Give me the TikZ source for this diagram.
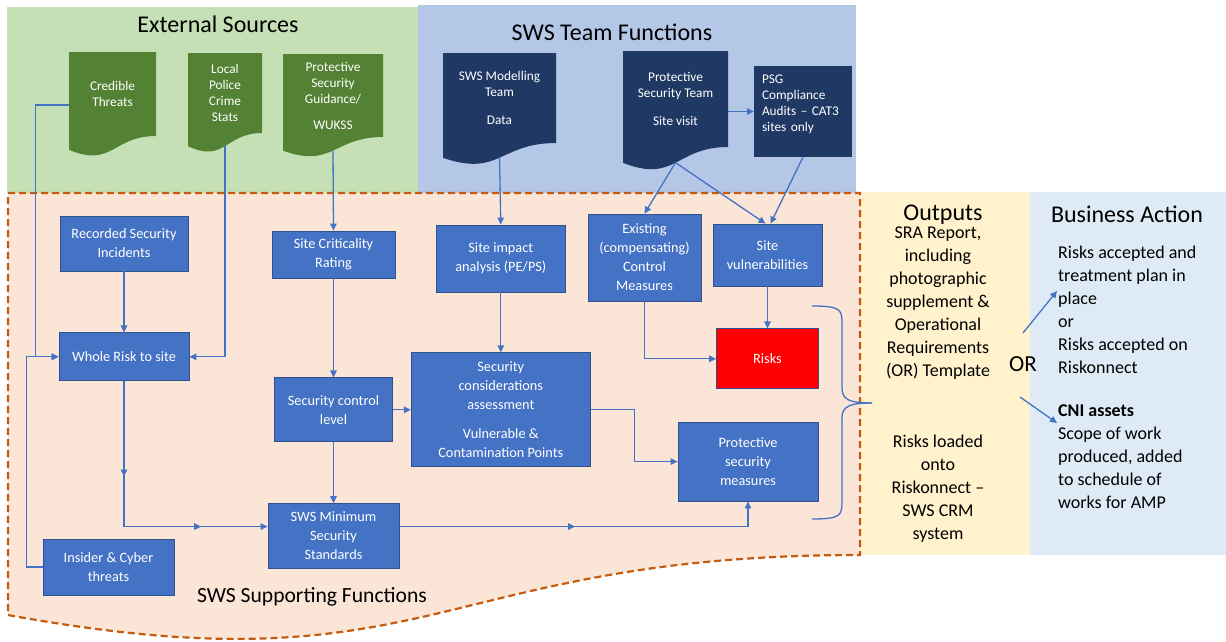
\documentclass[tikz,border=0pt]{standalone}
\usepackage{fontspec}
\setmainfont{Carlito}
\usetikzlibrary{positioning, calc, arrows.meta, decorations.markings}

\definecolor{srcgreen}{HTML}{C5E0B4}
\definecolor{teamblue}{HTML}{B4C7E7}
\definecolor{suppfill}{HTML}{FBE5D6}
\definecolor{suppline}{HTML}{C55A11}
\definecolor{outyellow}{HTML}{FFF2CC}
\definecolor{actblue}{HTML}{DEEBF7}
\definecolor{boxblue}{HTML}{4472C4}
\definecolor{boxline}{HTML}{2F528F}
\definecolor{docgreen}{HTML}{548235}
\definecolor{docnavy}{HTML}{203864}

\pgfdeclarelayer{panel}
\pgfdeclarelayer{paper}
\pgfsetlayers{panel,paper,main}

\tikzset{
    fn/.style={draw=boxline, fill=boxblue, text=white, align=center, inner sep=2pt,
        line width=0.8pt, font=\fontsize{14.3}{19}\selectfont},
    doc/.style={text=white, align=center, inner sep=1pt, outer sep=0pt,
        font=\fontsize{13.3}{16}\selectfont},
    flow/.style={boxblue, line width=1.3pt, -{Triangle[length=7pt,width=6.5pt]}},
    link/.style={boxblue, line width=1.3pt},
    midarrow/.style={postaction={decorate, decoration={markings,
        mark=at position #1 with {\arrow{Triangle[length=7pt,width=6.5pt]}}}}},
    heading/.style={font=\fontsize{24}{28}\selectfont, inner sep=0pt},
    note/.style={font=\fontsize{18}{23}\selectfont, inner sep=0pt},
}

% wavy bottom of a document shape under node #1
\newcommand{\docwave}[2]{%
    \fill[#2] (#1.north west) -- (#1.north east) -- (#1.south east)
        .. controls (#1.south) and ($(#1.north)!1.3815!(#1.south)$)
        .. ($(#1.north west)!1.1646!(#1.south west)$) -- cycle;
    \coordinate (#1-b) at ($(#1.north)!1.163!(#1.south)$);}

\begin{document}
\begin{tikzpicture}[x=1pt, y=-1pt]
    \useasboundingbox (0,0) rectangle (1226,641);

    % panels
    \begin{pgfonlayer}{panel}
        \fill[srcgreen] (7,7) rectangle (418,193);
        \fill[teamblue] (418,5) rectangle (856,193);
        \fill[outyellow] (860,192) rectangle (1030,555);
        \fill[actblue] (1030,192) rectangle (1226,555);
        \draw[suppline, fill=suppfill, line width=2.2pt, dash pattern=on 7pt off 4pt]
            (8,193) -- (860,193) -- (860,555)
            .. controls (434,555) and (434,693) .. (8,615) -- cycle;
    \end{pgfonlayer}

    \node[heading] (srctitle) at (218,24) {External Sources};
    \node[heading] (teamtitle) at (612,32) {SWS Team Functions};
    \node[heading, font=\fontsize{21.6}{26}\selectfont] (supptitle) at (312,597) {SWS Supporting Functions};
    \node[heading] (outtitle) at (943,215) {Outputs};
    \node[heading] (acttitle) at (1127,214) {Business Action};

    % external sources
    \node[doc, minimum width=87pt, minimum height=84pt] (cred) at (112.5,94) {Credible\\Threats};
    \node[doc, minimum width=74pt, minimum height=80pt] (police) at (225,93) {Local\\Police\\Crime\\Stats};
    \node[doc, minimum width=100pt, minimum height=83pt] (guide) at (333,95.5) {Protective\\Security\\Guidance/\\[10pt]WUKSS};

    % team functions
    \node[doc, minimum width=113pt, minimum height=90pt] (model) at (499.5,98) {SWS Modelling\\Team\\[12pt]Data};
    \node[doc, minimum width=105pt, minimum height=96pt] (pst) at (675.5,99) {Protective\\Security Team\\[12pt]Site visit};
    \node[doc, fill=docnavy, minimum width=98pt, minimum height=91pt, align=left, text width=82pt] (psg) at (803,111.5)
        {PSG\\Compliance\\Audits – CAT3\\sites only\\ \mbox{}};

    \begin{pgfonlayer}{paper}
        \docwave{cred}{docgreen}
        \docwave{police}{docgreen}
        \docwave{guide}{docgreen}
        \docwave{model}{docnavy}
        \docwave{pst}{docnavy}
    \end{pgfonlayer}

    % supporting functions
    \node[fn, minimum width=128pt, minimum height=55pt] (rec) at (124,243.5) {Recorded Security\\Incidents};
    \node[fn, minimum width=130pt, minimum height=48pt, below=61pt of rec] (whole) {Whole Risk to site};
    \node[fn, minimum width=131pt, minimum height=56pt] (insider) at (108.5,567) {Insider \& Cyber\\threats};
    \node[fn, minimum width=123pt, minimum height=47pt] (crit) at (333.5,254.5) {Site Criticality\\Rating};
    \node[fn, minimum width=118pt, minimum height=64pt, below=99pt of crit] (scl) {Security control\\level};
    \node[fn, minimum width=131pt, minimum height=65pt, below=61pt of scl] (minstd) {SWS Minimum\\Security\\Standards};
    \node[fn, minimum width=179pt, minimum height=114pt, right=18pt of scl] (seccons)
        {Security\\considerations\\assessment\\[10pt]Vulnerable \&\\Contamination Points};
    \node[fn, minimum width=129pt, minimum height=67pt, above=60pt of seccons] (impact) {Site impact\\analysis (PE/PS)};
    \node[fn, minimum width=113pt, minimum height=87pt] (exist) at (644.5,257.5) {Existing\\(compensating)\\Control\\Measures};
    \node[fn, minimum width=109pt, minimum height=62pt] (vuln) at (767.5,255) {Site\\vulnerabilities};
    \node[fn, fill=red, minimum width=102pt, minimum height=60pt, below=42pt of vuln] (risks) {Risks};
    \node[fn, minimum width=140pt, minimum height=79pt] (psm) at (748,461.5) {Protective\\security\\measures};

    % outputs and business action
    \node[note, align=center] (sra) at (938,303) {SRA Report,\\including\\photographic\\supplement \&\\Operational\\Requirements\\(OR) Template};
    \node[note, align=center] (loaded) at (938,488.5) {Risks loaded\\onto\\Riskonnect –\\SWS CRM\\system};
    \node[font=\fontsize{23}{28}\selectfont, inner sep=0pt] (or) at (1023,364) {OR};
    \node[note, align=left, anchor=west] (accept) at (1058,310)
        {Risks accepted and\\treatment plan in\\place\\or\\Risks accepted on\\Riskonnect};
    \node[note, align=left, anchor=west] (cni) at (1058,457)
        {\textbf{CNI assets}\\Scope of work\\produced, added\\to schedule of\\works for AMP};
    \coordinate (orup) at (1023,333);
    \coordinate (accin) at (1057,291);
    \coordinate (ordn) at (1020,397);
    \coordinate (cniin) at (1057,423);

    % connectors
    \draw[flow] ([yshift=-11pt]cred.west) -| ([xshift=-23pt]whole.west) -- (whole.west);
    \draw[flow] (insider.west) -| ([xshift=-32pt]whole.west) -- (whole.west);
    \draw[flow] (police-b) |- (whole.east);
    \draw[flow] (rec) -- (whole);
    \draw[flow, midarrow=0.33, midarrow=0.77] (whole.south) |- ([yshift=9.5pt]minstd.west);
    \draw[flow] (guide-b) -- (crit.north);
    \draw[flow] (crit) -- (scl);
    \draw[flow] (scl) -- (minstd);
    \draw[flow] (scl) -- (seccons);
    \draw[flow] (model-b) -- (impact.north);
    \draw[flow] (impact) -- (seccons);
    \draw[flow] (psg.west -| pst.east) -- (psg.west);
    \draw[flow] (pst-b) -- (exist.north);
    \draw[flow] (pst-b) -- ([xshift=-2pt]vuln.north);
    \draw[flow] (psg.south) -- ([xshift=3pt]vuln.north);
    \draw[flow] (exist.south) |- (risks.west);
    \draw[flow] (vuln) -- (risks);
    \draw[flow] (seccons.east) -- ++(44,0) |- (psm.west);
    \draw[flow, midarrow=0.47] ([yshift=9.5pt]minstd.east) -| (psm.south);
    \draw[flow] (orup) -- (accin);
    \draw[flow] (ordn) -- (cniin);

    % brace
    \draw[link] (812,306) .. controls (842,306) and (842,310) .. (842,325) -- (842,388)
        .. controls (842,400) and (850,403) .. (872,403);
    \draw[link] (872,403) .. controls (850,403) and (842,406) .. (842,418) -- (842,500)
        .. controls (842,515) and (842,519) .. (812,519);
\end{tikzpicture}
\end{document}
